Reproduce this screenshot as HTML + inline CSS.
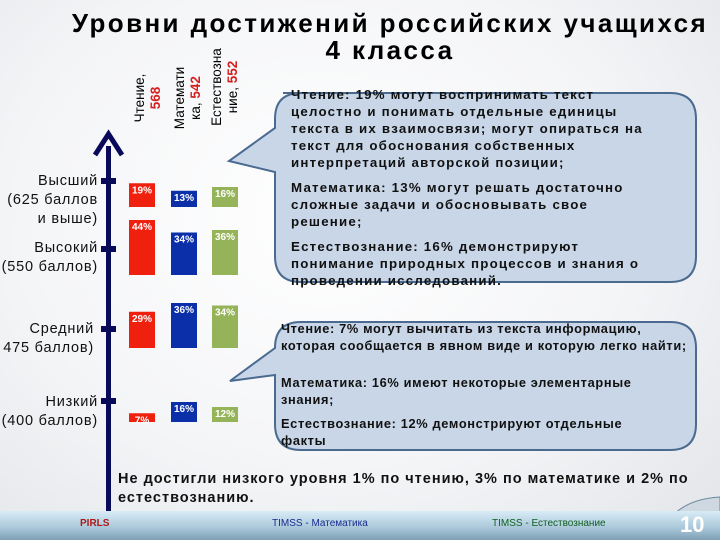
<!DOCTYPE html>
<html><head><meta charset="utf-8"><style>
body{margin:0;width:720px;height:540px;overflow:hidden;font-family:"Liberation Sans",sans-serif;}
#slide{position:relative;width:720px;height:540px;background:radial-gradient(ellipse at 45% 40%,#ffffff 0%,#f4f5f7 55%,#e2e4e8 100%);}
.t{position:absolute;white-space:nowrap;}
.lvl{position:absolute;right:622px;text-align:right;font-size:14.5px;line-height:19px;color:#111;white-space:nowrap;letter-spacing:0.8px;}
.vl{position:absolute;transform:rotate(-90deg);transform-origin:left top;font-size:13.5px;line-height:16px;text-align:center;white-space:nowrap;}
.ct{position:absolute;font-weight:bold;font-size:13.3px;line-height:17px;color:#111;white-space:nowrap;letter-spacing:1.2px;}
</style></head><body>
<div id="slide">
<div class="t" style="left:0;width:780px;top:10px;text-align:center;font-weight:bold;font-size:26px;letter-spacing:2.4px;line-height:27px;">Уровни достижений российских учащихся<br>4 класса</div>

<div class="vl" style="left:132px;top:128px;width:60px;">Чтение,<br><b style="color:#d42020">568</b></div>
<div class="vl" style="left:172px;top:134px;width:72px;">Математи<br>ка, <b style="color:#d42020">542</b></div>
<div class="vl" style="left:209px;top:132px;width:90px;">Естествозна<br>ние, <b style="color:#d42020">552</b></div>

<svg width="720" height="540" style="position:absolute;left:0;top:0">
<path d="M283 93 L670 93 Q696 93 696 119 L696 256 Q696 282 670 282 L301 282 Q275 282 275 256 L275 172 L229 161 L275 128 L275 119 Q275 93 301 93 Z" fill="#c8d6e8" stroke="#4a6a90" stroke-width="2"/>
<path d="M301 322 L670 322 Q696 322 696 348 L696 424 Q696 450 670 450 L301 450 Q275 450 275 424 L275 375 L230 381 L275 348 Q275 322 301 322 Z" fill="#c8d6e8" stroke="#4a6a90" stroke-width="2"/>
<rect x="106" y="146" width="5" height="366" fill="#0a0a5a"/>
<path d="M95 155 L108.5 134 L122 155" fill="none" stroke="#0a0a5a" stroke-width="5"/>
<g id="ticks"></g>
<g id="bars"></g>
<path d="M720 497 Q670 500 660 540 L720 540 Z" fill="#cfd8e0" stroke="#6a8aa0" stroke-width="1"/>
</svg>

<div class="lvl" style="top:172px">Высший<br>(625 баллов<br>и выше)</div>
<div class="lvl" style="top:239px">Высокий<br>(550 баллов)</div>
<div class="lvl" style="top:320px;right:626px">Средний<br>475 баллов)</div>
<div class="lvl" style="top:393px">Низкий<br>(400 баллов)</div>

<div class="ct" style="left:291px;top:86px">Чтение: 19% могут воспринимать текст<br>целостно и понимать отдельные единицы<br>текста в их взаимосвязи; могут опираться на<br>текст для обоснования собственных<br>интерпретаций авторской позиции;<div style="height:8px"></div>Математика: 13% могут решать достаточно<br>сложные задачи и обосновывать свое<br>решение;<div style="height:8px"></div>Естествознание: 16% демонстрируют<br>понимание природных процессов и знания о<br>проведении исследований.</div>
<div class="ct" style="left:281px;top:320px;font-size:12.8px;letter-spacing:0.65px">Чтение: 7% могут вычитать из текста информацию,<br>которая сообщается в явном виде и которую легко найти;<div style="height:20px"></div>Математика: 16% имеют некоторые элементарные<br>знания;<div style="height:7px"></div>Естествознание: 12% демонстрируют отдельные<br>факты</div>

<div class="t" style="left:118px;top:470px;font-size:14.5px;line-height:19px;font-weight:bold;color:#111;letter-spacing:1px">Не достигли низкого уровня 1% по чтению, 3% по математике и 2% по<br>естествознанию.</div>

<div style="position:absolute;left:0;top:511px;width:720px;height:29px;background:linear-gradient(#d8ecf6,#a8c6d8 60%,#7e9fb4)">
<div class="t" style="left:80px;top:7px;font-size:10px;font-weight:bold;color:#b01818">PIRLS</div>
<div class="t" style="left:272px;top:7px;font-size:10px;color:#1a2a90">TIMSS - Математика</div>
<div class="t" style="left:492px;top:7px;font-size:10px;color:#106020">TIMSS - Естествознание</div>
<div class="t" style="left:680px;top:1px;font-size:22px;font-weight:bold;color:#fff">10</div>
</div>
</div>
<script>
const levels=["Высший","Высокий","Средний","Низкий"];
const reading=[19,44,29,7];
const math=[13,34,36,16];
const science=[16,36,34,12];
const NS="http://www.w3.org/2000/svg";
const baseY=[207,275,348,422];
const tickY=[181,249,329,401];
const pxPer=1.25;
const series=[{v:reading,x:129,c:"#f0200e",n:"reading"},{v:math,x:171,c:"#0b2fa8",n:"math"},{v:science,x:212,c:"#95b45a",n:"science"}];
const yScale=v=>v*pxPer;
const gb=document.getElementById("bars"),gt=document.getElementById("ticks");
tickY.forEach((y,i)=>{const r=document.createElementNS(NS,"rect");
r.setAttribute("x",101);r.setAttribute("y",y-3);r.setAttribute("width",15);r.setAttribute("height",6);r.setAttribute("fill","#0a0a5a");


gt.appendChild(r);});
series.forEach(s=>{s.v.forEach((v,i)=>{const h=yScale(v);
const r=document.createElementNS(NS,"rect");
r.setAttribute("x",s.x);r.setAttribute("y",baseY[i]-h);r.setAttribute("width",26);r.setAttribute("height",h);r.setAttribute("fill",s.c);


gb.appendChild(r);
const t=document.createElementNS(NS,"text");
t.setAttribute("x",s.x+13);t.setAttribute("y",baseY[i]-h+10);t.setAttribute("text-anchor","middle");t.setAttribute("font-size","10");t.setAttribute("font-weight","bold");t.setAttribute("fill","#fff");t.setAttribute("font-family","Liberation Sans, sans-serif");
t.textContent=v+"%";


gb.appendChild(t);});});
</script>
</body></html>
